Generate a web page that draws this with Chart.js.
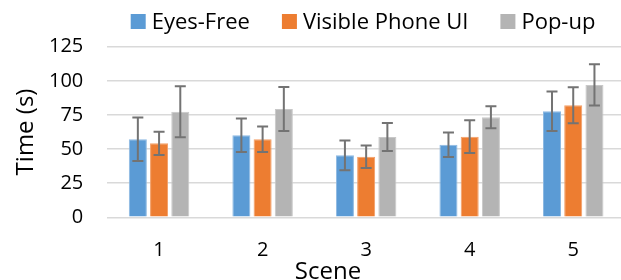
<!DOCTYPE html>
<html>
<head>
<meta charset="utf-8">
<script src="https://cdn.jsdelivr.net/npm/chart.js@4/dist/chart.umd.min.js"></script>
<style>
  html, body { margin: 0; padding: 0; background: #ffffff; overflow: hidden; }
  #wrap { position: relative; width: 625px; height: 280px; }
</style>
</head>
<body>
<div id="wrap"><canvas id="c"></canvas></div>
<script>
// ---- data ----
const categories = ['1', '2', '3', '4', '5'];
const seriesNames = ['Eyes-Free', 'Visible Phone UI', 'Pop-up'];
const eyesFree      = [57.2, 60.1, 45.4, 53.2, 77.7];
const eyesFreeErr   = [16.0, 12.2, 10.9, 9.0, 14.4];
const visiblePhone    = [54.2, 57.2, 44.4, 59.1, 82.1];
const visiblePhoneErr = [8.5, 9.4, 8.3, 12.0, 13.1];
const popUp      = [77.4, 79.4, 58.8, 73.3, 97.0];
const popUpErr   = [18.7, 16.1, 10.3, 8.0, 15.1];
const yTicks = [0, 25, 50, 75, 100, 125];
const xTitle = 'Scene';
const yTitle = 'Time (s)';

const FONT = "'Open Sans', 'Noto Sans', sans-serif";

const errorBarPlugin = {
  id: 'errorBars',
  afterDatasetsDraw(chart) {
    const ctx = chart.ctx;
    const yScale = chart.scales.y;
    ctx.save();
    ctx.strokeStyle = '#737373';
    ctx.lineWidth = 2;
    chart.data.datasets.forEach((ds, di) => {
      const meta = chart.getDatasetMeta(di);
      meta.data.forEach((bar, i) => {
        const v = ds.data[i], e = ds.errors[i];
        const x = bar.x;
        const yt = yScale.getPixelForValue(v + e);
        const yb = yScale.getPixelForValue(v - e);
        const cap = 5.5;
        ctx.beginPath();
        ctx.moveTo(x, yt); ctx.lineTo(x, yb);
        ctx.moveTo(x - cap, yt); ctx.lineTo(x + cap, yt);
        ctx.moveTo(x - cap, yb); ctx.lineTo(x + cap, yb);
        ctx.stroke();
      });
    });
    ctx.restore();
  }
};

const legendTextPlugin = {
  id: 'customLegend',
  afterDraw(chart) {
    const ctx = chart.ctx;
    ctx.save();
    ctx.font = "22px " + FONT;
    ctx.textBaseline = 'alphabetic';
    ctx.textAlign = 'left';
    let x = 130.7;
    chart.data.datasets.forEach((ds) => {
      ctx.fillStyle = ds.backgroundColor;
      ctx.fillRect(x, 14, 15, 15);
      ctx.fillStyle = '#000000';
      ctx.fillText(ds.label, x + 21, 29.3);
      x += 21 + ctx.measureText(ds.label).width + 32;
    });
    // x-axis title
    ctx.font = "24px " + FONT;
    ctx.textAlign = 'center';
    ctx.fillText(xTitle, 328, 279);
    ctx.restore();
  }
};

new Chart(document.getElementById('c'), {
  type: 'bar',
  data: {
    labels: categories,
    datasets: [
      { label: seriesNames[0], data: eyesFree, errors: eyesFreeErr, backgroundColor: '#5B9BD5', borderColor: '#8DB9E2', borderWidth: 1 },
      { label: seriesNames[1], data: visiblePhone, errors: visiblePhoneErr, backgroundColor: '#ED7D31', borderColor: '#F29E66', borderWidth: 1 },
      { label: seriesNames[2], data: popUp, errors: popUpErr, backgroundColor: '#B4B4B4', borderColor: '#C8C8C8', borderWidth: 1 }
    ]
  },
  options: {
    responsive: true,
    maintainAspectRatio: false,
    animation: false,
    devicePixelRatio: 1,
    layout: { padding: { top: 46.7, right: 0, bottom: 0, left: 0 } },
    datasets: { bar: { categoryPercentage: 0.615, barPercentage: 0.85 } },
    plugins: { legend: { display: false }, tooltip: { enabled: false } },
    scales: {
      x: {
        grid: { display: false },
        border: { display: false },
        ticks: { color: '#000000', font: { family: FONT, size: 20 }, padding: 13 },
        afterFit(scale) { scale.height = 62.7; }
      },
      y: {
        min: 0, max: 125,
        afterBuildTicks(scale) { scale.ticks = yTicks.map(v => ({ value: v })); },
        grid: { color: '#D9D9D9', lineWidth: 1.5, drawTicks: false },
        border: { display: false },
        ticks: { color: '#000000', font: { family: FONT, size: 20 }, padding: 24 },
        title: { display: true, text: yTitle, color: '#000000', font: { family: FONT, size: 24 }, padding: { top: 11.7, bottom: 0 } },
        afterFit(scale) { scale.width = 107.3; }
      }
    }
  },
  plugins: [errorBarPlugin, legendTextPlugin]
});
</script>
</body>
</html>
